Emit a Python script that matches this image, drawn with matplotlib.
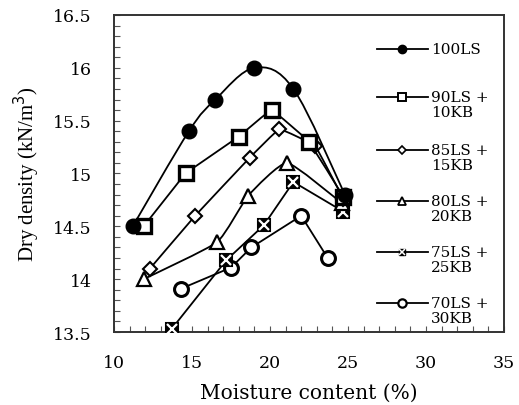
import numpy as np
import matplotlib
matplotlib.use('Agg')
import matplotlib.pyplot as plt
from matplotlib.path import Path
from matplotlib.patches import PathPatch
from matplotlib.lines import Line2D
from matplotlib.ticker import MultipleLocator

# ------ DATA
labels = ['100LS', '90LS +\n10KB', '85LS +\n15KB', '80LS +\n20KB', '75LS +\n25KB', '70LS +\n30KB']

x_100 = [11.2, 14.8, 16.5, 19.0, 21.5, 24.8]
y_100 = [14.5, 15.4, 15.7, 16.0, 15.8, 14.8]

x_90 = [11.9, 14.6, 18.0, 20.1, 22.5, 24.7]
y_90 = [14.5, 15.0, 15.35, 15.6, 15.3, 14.78]

x_85 = [12.3, 15.2, 18.7, 20.6, 22.9, 24.7]
y_85 = [14.1, 14.6, 15.15, 15.42, 15.26, 14.76]

x_80 = [11.9, 16.6, 18.6, 21.1, 24.6]
y_80 = [14.0, 14.35, 14.79, 15.1, 14.72]

x_75 = [13.7, 17.2, 19.6, 21.5, 24.7]
y_75 = [13.53, 14.18, 14.51, 14.92, 14.64]

x_70 = [14.3, 17.5, 18.8, 22.0, 23.7]
y_70 = [13.91, 14.11, 14.30, 14.60, 14.2]

x_ticks = [10, 15, 20, 25, 30, 35]
y_ticks = [13.5, 14, 14.5, 15, 15.5, 16, 16.5]
y_tick_labels = ['13.5', '14', '14.5', '15', '15.5', '16', '16.5']

SERIF = ['DejaVu Serif']
TIMES = ['Liberation Serif', 'DejaVu Serif']


def smooth_path(x, y, t):
    # smoothed line as cubic bezier, control points from neighbours (t=0 -> straight)
    p = np.column_stack([x, y]).astype(float)
    n = len(p)
    verts = [p[0]]
    codes = [Path.MOVETO]
    for i in range(n - 1):
        p0 = p[i - 1] if i > 0 else p[i]
        p3 = p[i + 2] if i + 2 < n else p[i + 1]
        c1 = p[i] + (p[i + 1] - p0) * t
        c2 = p[i + 1] - (p3 - p[i]) * t
        verts += [c1, c2, p[i + 1]]
        codes += [Path.CURVE4] * 3
    return Path(verts, codes)


def main():
    fig = plt.figure(figsize=(5.19, 4.06), dpi=100)
    ax = fig.add_axes([0.2197, 0.1798, 0.7514, 0.7808])

    series = [
        (x_70, y_70, 0.0, dict(marker='o', mfc='white', ms=10, mew=2.2)),
        (x_75, y_75, 0.0, dict(marker='s', mfc='black', ms=9, mew=1.5)),
        (x_80, y_80, 0.08, dict(marker='^', mfc='white', ms=10, mew=1.6)),
        (x_85, y_85, 0.03, dict(marker='D', mfc='white', ms=7.5, mew=1.5)),
        (x_90, y_90, 0.03, dict(marker='s', mfc='white', ms=10, mew=2.4)),
        (x_100, y_100, 1 / 6.0, dict(marker='o', mfc='black', ms=10.5, mew=1)),
    ]
    for k, (xs, ys, t, st) in enumerate(series):
        ax.add_patch(PathPatch(smooth_path(xs, ys, t), fill=False, ec='black', lw=1.3, zorder=2 + k))
        ax.plot(xs, ys, ls='none', mec='black', zorder=2.5 + k, **st)
        if k == 1:
            ax.plot(xs, ys, ls='none', marker='x', ms=7, mew=1.6, color='white', zorder=2.6 + k)

    ax.set_xlim(10, 35)
    ax.set_ylim(13.5, 16.5)
    ax.set_xticks(x_ticks)
    ax.set_xticklabels([str(v) for v in x_ticks], family=SERIF, fontsize=12.5)
    ax.set_yticks(y_ticks)
    ax.set_yticklabels(y_tick_labels, family=SERIF, fontsize=12.5)
    ax.xaxis.set_minor_locator(MultipleLocator(1))
    ax.yaxis.set_minor_locator(MultipleLocator(0.1))
    ax.tick_params(which='both', direction='in', length=4, width=0.8, color='#555555',
                   top=False, right=False)
    ax.tick_params(axis='x', which='major', pad=16)
    ax.tick_params(axis='y', which='major', pad=16)
    for s in ax.spines.values():
        s.set_color('#333333')
        s.set_linewidth(1.4)

    ax.set_xlabel('Moisture content (%)', family=SERIF, fontsize=14.5, labelpad=8)
    ax.set_ylabel('Dry density (kN/m$^3$)', family=TIMES, fontsize=15, labelpad=8)

    # legend, drawn by hand so the handle sits on the first text line
    handles = [
        dict(marker='o', mfc='black', ms=6),
        dict(marker='s', mfc='white', ms=6, mew=1.4),
        dict(marker='D', mfc='white', ms=4.5, mew=1.2),
        dict(marker='^', mfc='white', ms=6, mew=1.3),
        dict(marker='s', mfc='black', ms=5),
        dict(marker='o', mfc='white', ms=6, mew=1.6),
    ]
    leg_y = [0.893, 0.741, 0.574, 0.413, 0.252, 0.091]
    for i, (lab, st) in enumerate(zip(labels, handles)):
        yy = leg_y[i]
        ax.add_line(Line2D([0.674, 0.805], [yy, yy], transform=ax.transAxes, color='black',
                           lw=1.3, zorder=10))
        ax.add_line(Line2D([0.7395], [yy], transform=ax.transAxes, ls='none', mec='black',
                           zorder=11, **st))
        if i == 4:
            ax.add_line(Line2D([0.7395], [yy], transform=ax.transAxes, ls='none', marker='x',
                               color='white', ms=4, mew=1.1, zorder=12))
        ax.text(0.812, yy + 0.023, lab, transform=ax.transAxes, va='top', ha='left',
                family=SERIF, fontsize=11, linespacing=1.1)

    fig.savefig('out.png', dpi=100)


main()
